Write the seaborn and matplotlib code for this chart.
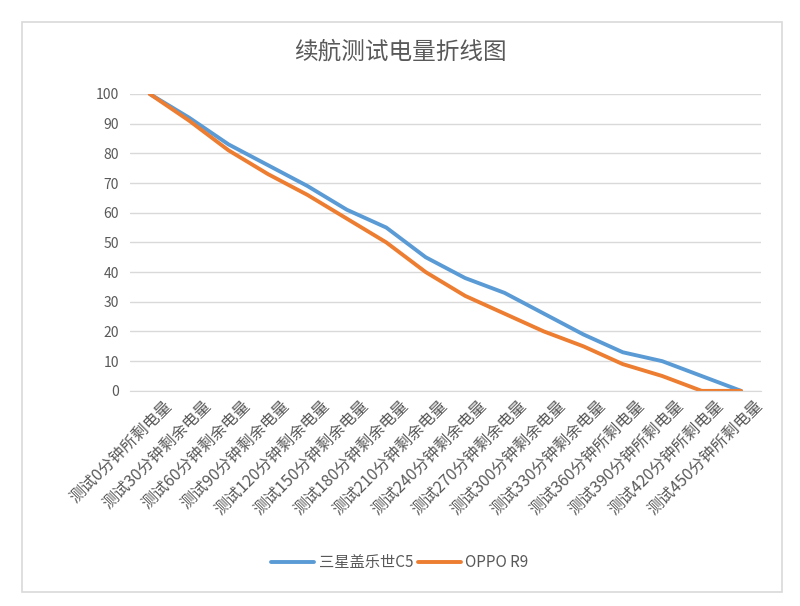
import matplotlib
matplotlib.use("Agg")
import matplotlib.pyplot as plt
import matplotlib.patches as mpatches
import matplotlib.transforms as mtransforms
import pandas as pd
import seaborn as sns

categories = [
    "测试0分钟所剩电量", "测试30分钟剩余电量", "测试60分钟剩余电量", "测试90分钟剩余电量",
    "测试120分钟剩余电量", "测试150分钟剩余电量", "测试180分钟剩余电量", "测试210分钟剩余电量",
    "测试240分钟剩余电量", "测试270分钟剩余电量", "测试300分钟剩余电量", "测试330分钟剩余电量",
    "测试360分钟所剩电量", "测试390分钟所剩电量", "测试420分钟所剩电量", "测试450分钟所剩电量",
]
samsung_c5 = [100, 92, 83, 76, 69, 61, 55, 45, 38, 33, 26, 19, 13, 10, 5, 0]
oppo_r9 = [100, 91, 81, 73, 66, 58, 50, 40, 32, 26, 20, 15, 9, 5, 0, 0]
series_names = ["三星盖乐世C5", "OPPO R9"]
colors = ["#5B9BD5", "#ED7D31"]

sns.set_style("white")
plt.rcParams["font.family"] = ["Noto Sans CJK SC", "DejaVu Sans"]

df = pd.DataFrame({
    "category": categories * 2,
    "value": samsung_c5 + oppo_r9,
    "series": [series_names[0]] * len(categories) + [series_names[1]] * len(categories),
})

fig = plt.figure(figsize=(8, 6.06), dpi=100)
ax = fig.add_axes([0.1625, 0.355, 0.7885, 0.49])

sns.lineplot(data=df, x="category", y="value", hue="series", palette=colors,
             sort=False, linewidth=2.8, ax=ax, legend=True)

grey = "#595959"
ax.set_ylim(0, 100)
ax.set_xlim(-0.5, len(categories) - 0.5)
ax.set_yticks(range(0, 101, 10))
ax.yaxis.grid(True, color="#D9D9D9", linewidth=1)
ax.set_axisbelow(True)
for s in ["top", "right", "left"]:
    ax.spines[s].set_visible(False)
ax.spines["bottom"].set_color("#D9D9D9")
ax.tick_params(axis="both", length=0, colors=grey, labelsize=10)
ax.tick_params(axis="y", pad=8)
ax.set_xticks(range(len(categories)))
ax.set_xticklabels(categories, rotation=45, ha="right", rotation_mode="anchor", fontsize=11.5)
ax.tick_params(axis="x", pad=5)
# shift labels a little to the right, like the original
shift = mtransforms.ScaledTranslation(10 / 72, 0, fig.dpi_scale_trans)
for lbl in ax.get_xticklabels():
    lbl.set_transform(lbl.get_transform() + shift)
ax.set_xlabel("")
ax.set_ylabel("")

handles, labels = ax.get_legend_handles_labels()
ax.legend_.remove()
fig.legend(handles, labels, loc="center", bbox_to_anchor=(0.5, 0.071), ncol=2,
           frameon=False, fontsize=11, handlelength=2.8, handletextpad=0.3,
           columnspacing=0.3, labelcolor=grey)

fig.text(0.5, 0.914, "续航测试电量折线图", ha="center", va="center", fontsize=17, color=grey)

fig.patches.append(mpatches.Rectangle((0.0275, 0.0231), 0.95, 0.9406, transform=fig.transFigure,
                                      fill=False, edgecolor="#D9D9D9", linewidth=1.2))

fig.savefig("out.png", dpi=100)
